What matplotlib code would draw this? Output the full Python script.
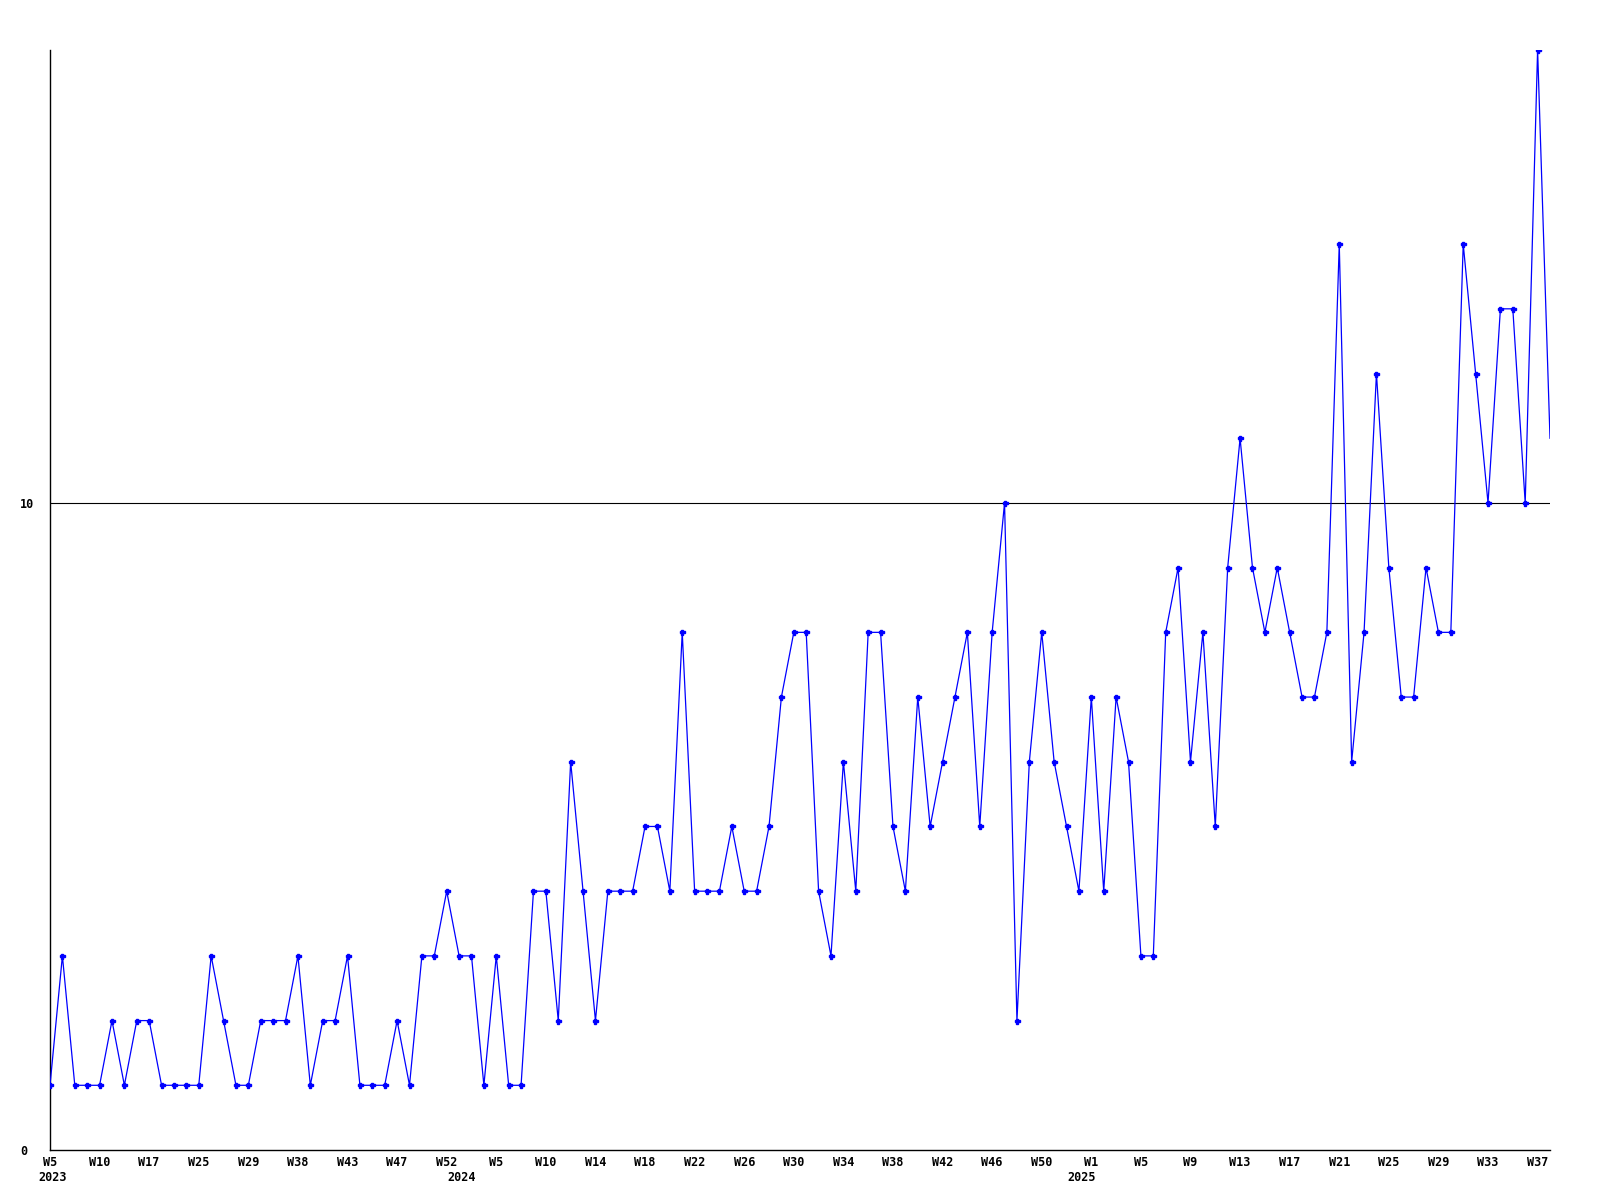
import numpy as np
import matplotlib
matplotlib.use("Agg")
import matplotlib.pyplot as plt

# weekly counts
values = [1, 3, 1, 1, 1, 2, 1, 2, 2, 1, 1, 1, 1, 3, 2, 1, 1, 2, 2, 2,
          3, 1, 2, 2, 3, 1, 1, 1, 2, 1, 3, 3, 4, 3, 3, 1, 3, 1, 1, 4,
          4, 2, 6, 4, 2, 4, 4, 4, 5, 5, 4, 8, 4, 4, 4, 5, 4, 4, 5, 7,
          8, 8, 4, 3, 6, 4, 8, 8, 5, 4, 7, 5, 6, 7, 8, 5, 8, 10, 2, 6,
          8, 6, 5, 4, 7, 4, 7, 6, 3, 3, 8, 9, 6, 8, 5, 9, 11, 9, 8, 9,
          8, 7, 7, 8, 14, 6, 8, 12, 9, 7, 7, 9, 8, 8, 14, 12, 10, 13, 13, 10,
          17, 11]

# one label every 4th point
week_labels = ["W5", "W10", "W17", "W25", "W29", "W38", "W43", "W47", "W52",
               "W5", "W10", "W14", "W18", "W22", "W26", "W30", "W34", "W38",
               "W42", "W46", "W50", "W1", "W5", "W9", "W13", "W17", "W21",
               "W25", "W29", "W33", "W37"]
year_labels = ["2023", "2024", "2025"]
year_index = [0, 33, 83]

font = dict(family="DejaVu Sans Mono", weight="bold", size=8.5)

fig = plt.figure(figsize=(16, 12), dpi=100)
ax = fig.add_axes([50 / 1600, 1 - 1150 / 1200, 1500 / 1600, 1100 / 1200])

x = np.arange(len(values))
ax.plot(x, values, color="#0000ff", lw=0.9, marker="P", ms=3.6,
        mec="#0000ff", mfc="#0000ff", markevery=list(range(len(values) - 1)),
        zorder=3)

ax.set_xlim(0, len(values) - 1)
ax.set_ylim(0, 17)

for side in ["top", "right"]:
    ax.spines[side].set_visible(False)
for side in ["left", "bottom"]:
    ax.spines[side].set_linewidth(1.0)
    ax.spines[side].set_color("black")

ax.axhline(10, color="black", lw=0.8, zorder=1)

ax.set_yticks([0, 10])
ax.set_yticklabels(["0", "10"], fontdict=font)
for lbl in ax.get_yticklabels():
    lbl.set_horizontalalignment("left")
ax.tick_params(axis="y", length=0, pad=21.6)

ax.set_xticks(np.arange(0, len(values), 4))
ax.set_xticklabels(week_labels, fontdict=font)
ax.tick_params(axis="x", length=0, pad=4)

for yl, xi in zip(year_labels, year_index):
    ax.annotate(yl, xy=(xi, 0), xycoords=("data", "axes fraction"),
                xytext=(2, -15), textcoords="offset points",
                ha="center", va="top", **font)

fig.savefig("out.png", dpi=100, facecolor="white")
